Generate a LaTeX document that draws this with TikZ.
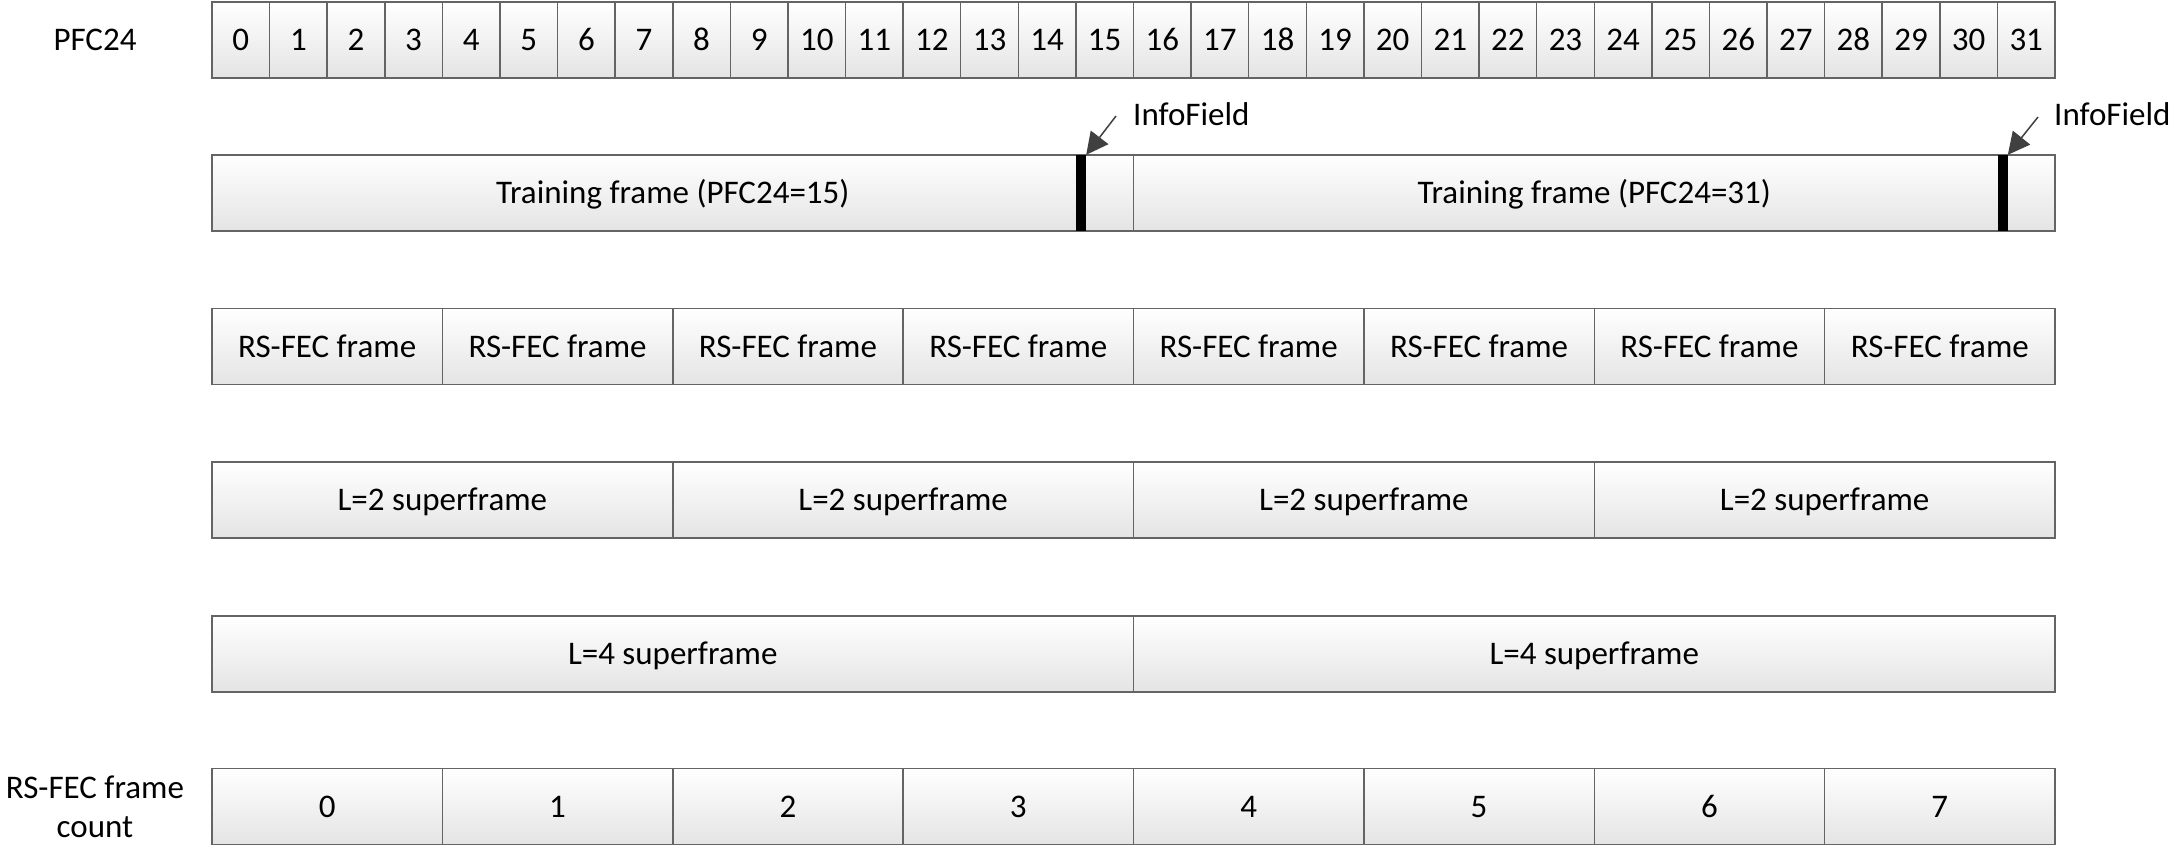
\documentclass[tikz,border=0pt]{standalone}
\usepackage{fontspec}
\setmainfont{Carlito}
\usetikzlibrary{arrows.meta}
\definecolor{bordergray}{RGB}{100,100,100}
\definecolor{fillgray}{RGB}{228,228,228}
\definecolor{arrowgray}{RGB}{64,64,64}
\newcommand{\fsz}{\fontsize{33}{39}\selectfont}
\begin{document}
\begin{tikzpicture}[x=1pt,y=-1pt,
  cell/.style={draw=bordergray, line width=1.5pt, top color=white, bottom color=fillgray,
    minimum height=76pt, inner sep=0pt, font=\fsz, text height=21pt, text depth=0pt},
  lbl/.style={font=\fsz, inner sep=0pt},
  ifbar/.style={fill=black, draw=none, inner sep=0pt, minimum width=10pt, minimum height=76pt},
  ifarrow/.style={draw=arrowgray, line width=1.5pt, -{Triangle[length=22pt,width=22pt]}}]
\useasboundingbox (0,0) rectangle (2174,846);
% row 1: PFC24
\node[lbl] (lpfc) at (95,40) {PFC24};
\foreach \i in {0,...,31}{
  \node[cell, minimum width=57.59pt] (p\i) at ({212+(\i+0.5)*57.594},40) {\i};
}
% row 2: training frames
\node[cell, minimum width=921.5pt] (t1) at (672.75,193) {Training frame (PFC24=15)};
\node[cell, minimum width=921.5pt] (t2) at (1594.25,193) {Training frame (PFC24=31)};
\node[ifbar] (if1) at (1081,193) {};
\node[ifbar] (if2) at (2002.6,193) {};
\coordinate (a1) at (1116,116);
\coordinate (a2) at (2038,117);
\draw[ifarrow] (a1) -- (if1.north east);
\draw[ifarrow] (a2) -- (if2.north east);
\node[lbl, anchor=base west] (il1) at (1133,125) {InfoField};
\node[lbl, anchor=base west] (il2) at (2054,125) {InfoField};
% row 3: RS-FEC frames
\foreach \i in {0,...,7}{
  \node[cell, minimum width=230.375pt] (r\i) at ({212+(\i+0.5)*230.375},346.5) {RS-FEC frame};
}
% row 4: L=2 superframes
\foreach \i in {0,...,3}{
  \node[cell, minimum width=460.75pt] (s\i) at ({212+(\i+0.5)*460.75},500) {L=2 superframe};
}
% row 5: L=4 superframes
\foreach \i in {0,1}{
  \node[cell, minimum width=921.5pt] (q\i) at ({212+(\i+0.5)*921.5},654) {L=4 superframe};
}
% row 6: RS-FEC frame count
\node[lbl, align=center] (lcnt) at (95,807) {RS-FEC frame\\count};
\foreach \i in {0,...,7}{
  \node[cell, minimum width=230.375pt] (c\i) at ({212+(\i+0.5)*230.375},806.5) {\i};
}
\end{tikzpicture}
\end{document}
